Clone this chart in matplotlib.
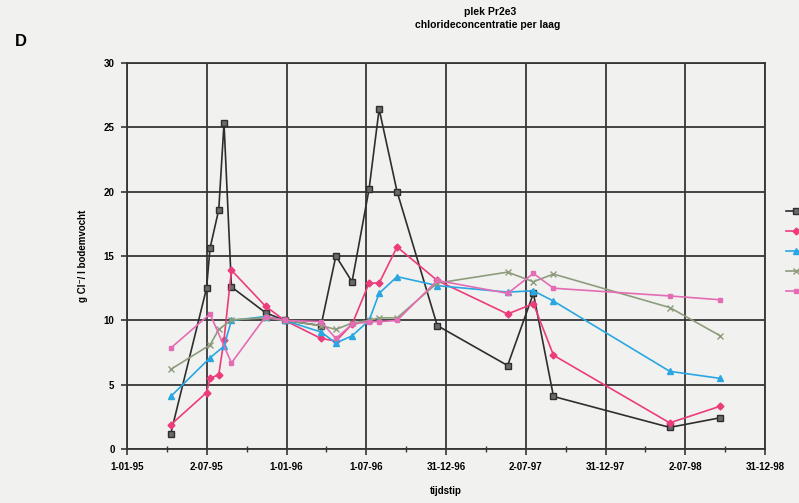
import matplotlib
matplotlib.use('Agg')
import matplotlib.pyplot as plt
import matplotlib.dates as mdates
import numpy as np
import pandas as pd

plt.rcParams['font.family'] = ['Liberation Sans', 'DejaVu Sans']
plt.rcParams['font.weight'] = 'bold'

# bemonsteringsdata en chlorideconcentratie (g Cl/l bodemvocht) per laag
datums = ['1995-04-11', '1995-07-02', '1995-07-10', '1995-07-30', '1995-08-11',
          '1995-08-28', '1995-11-14', '1995-12-28', '1996-03-20', '1996-04-23',
          '1996-05-30', '1996-07-08', '1996-07-31', '1996-09-10', '1996-12-11',
          '1997-05-21', '1997-07-19', '1997-09-03', '1998-05-27', '1998-09-20']
nan = np.nan
laag_1 = [1.2, 12.5, 15.6, 18.6, 25.3, 12.6, 10.6, 10.0, 9.6, 15.0,
          13.0, 20.2, 26.4, 20.0, 9.6, 6.5, 12.1, 4.1, 1.7, 2.45]
laag_2 = [1.9, 4.4, 5.5, 5.8, 8.5, 13.9, 11.1, 10.0, 8.6, 8.4,
          9.7, 12.9, 12.9, 15.7, 13.1, 10.5, 11.3, 7.3, 2.05, 3.35]
laag_3 = [4.1, nan, 7.1, nan, 8.0, 10.0, 10.3, 10.0, 9.1, 8.25,
          8.8, 10.0, 12.1, 13.4, 12.7, 12.2, 12.3, 11.5, 6.05, 5.5]
laag_4 = [6.2, nan, 8.1, 9.3, nan, 10.05, 10.2, 10.0, 9.6, 9.3,
          9.8, 10.0, 10.2, 10.2, 12.9, 13.75, 13.0, 13.6, 11.0, 8.8]
laag_5 = [7.85, nan, 10.5, nan, nan, 6.7, 10.3, 10.0, 9.9, 8.6,
          9.7, 9.9, 9.9, 10.0, 13.1, 12.1, 13.65, 12.5, 11.9, 11.6]

tick_labels = ['1-01-95', '2-07-95', '1-01-96', '1-07-96', '31-12-96',
               '2-07-97', '31-12-97', '2-07-98', '31-12-98']

lagen = [laag_1, laag_2, laag_3, laag_4, laag_5]
kleuren = ['#2e2e2e', '#ec3c7c', '#2aa6e2', '#8e9c7e', '#e46cb4']
vulling = ['#6a6a6a', '#ec3c7c', '#2aa6e2', '#8e9c7e', '#e46cb4']
markers = ['s', 'D', '^', 'x', 's']
msizes = [4.5, 3.5, 4, 4.5, 3.5]

achtergrond = '#f1f2ef'
fig = plt.figure(figsize=(7.99, 5.03), dpi=100, facecolor=achtergrond)
ax = fig.add_axes([127 / 799, 1 - 449.3 / 503, 638 / 799, (449.3 - 62.7) / 503])
ax.set_facecolor(achtergrond)

x = mdates.date2num(pd.to_datetime(datums))
handles = []
for waarden, kleur, vul, m, ms in zip(lagen, kleuren, vulling, markers, msizes):
    y = np.array(waarden, dtype=float)
    ok = ~np.isnan(y)
    lijn, = ax.plot(x[ok], y[ok], color=kleur, lw=1.2, marker=m, ms=ms,
                    mfc=vul, mec=kleur, mew=1.0, zorder=3)
    handles.append(lijn)

start = mdates.date2num(pd.Timestamp('1995-01-01'))
major = start + np.arange(9) * 182.5
ax.set_xlim(major[0], major[-1])
ax.set_ylim(0, 30)
ax.set_xticks(major)
ax.set_xticklabels(tick_labels)
ax.set_xticks(major[:-1] + 91.25, minor=True)
ax.set_yticks(np.arange(0, 31, 5))

ax.grid(True, which='major', color='#363636', lw=1.3, zorder=1)
for s in ax.spines.values():
    s.set_color('#363636')
    s.set_linewidth(1.3)
ax.tick_params(axis='both', which='major', direction='out', length=4,
               width=1.2, color='#363636', labelsize=7, pad=5)
ax.tick_params(axis='x', which='minor', direction='inout', length=5,
               width=1.0, color='#363636')

ax.set_xlabel('tijdstip', fontsize=7, fontweight='bold', labelpad=10)
ax.set_ylabel('g Cl\u207b/ l bodemvocht', fontsize=7, fontweight='bold', labelpad=11)

fig.text(490 / 799, 1 - 12 / 503, 'plek Pr2e3', ha='center', va='center',
         fontsize=7.5, fontweight='bold')
fig.text(488 / 799, 1 - 25 / 503, 'chlorideconcentratie per laag', ha='center',
         va='center', fontsize=7.5, fontweight='bold')
fig.text(15 / 799, 1 - 42 / 503, 'D', ha='left', va='center', fontsize=12,
         fontweight='bold')

fig.legend(handles, [''] * 5, loc='upper left',
           bbox_to_anchor=(786 / 799, 1 - 206 / 503), frameon=False,
           handlelength=2.0, fontsize=7, labelspacing=1.05, borderpad=0,
           borderaxespad=0, handletextpad=0.3)

fig.savefig('out.png', dpi=100, facecolor=achtergrond)
